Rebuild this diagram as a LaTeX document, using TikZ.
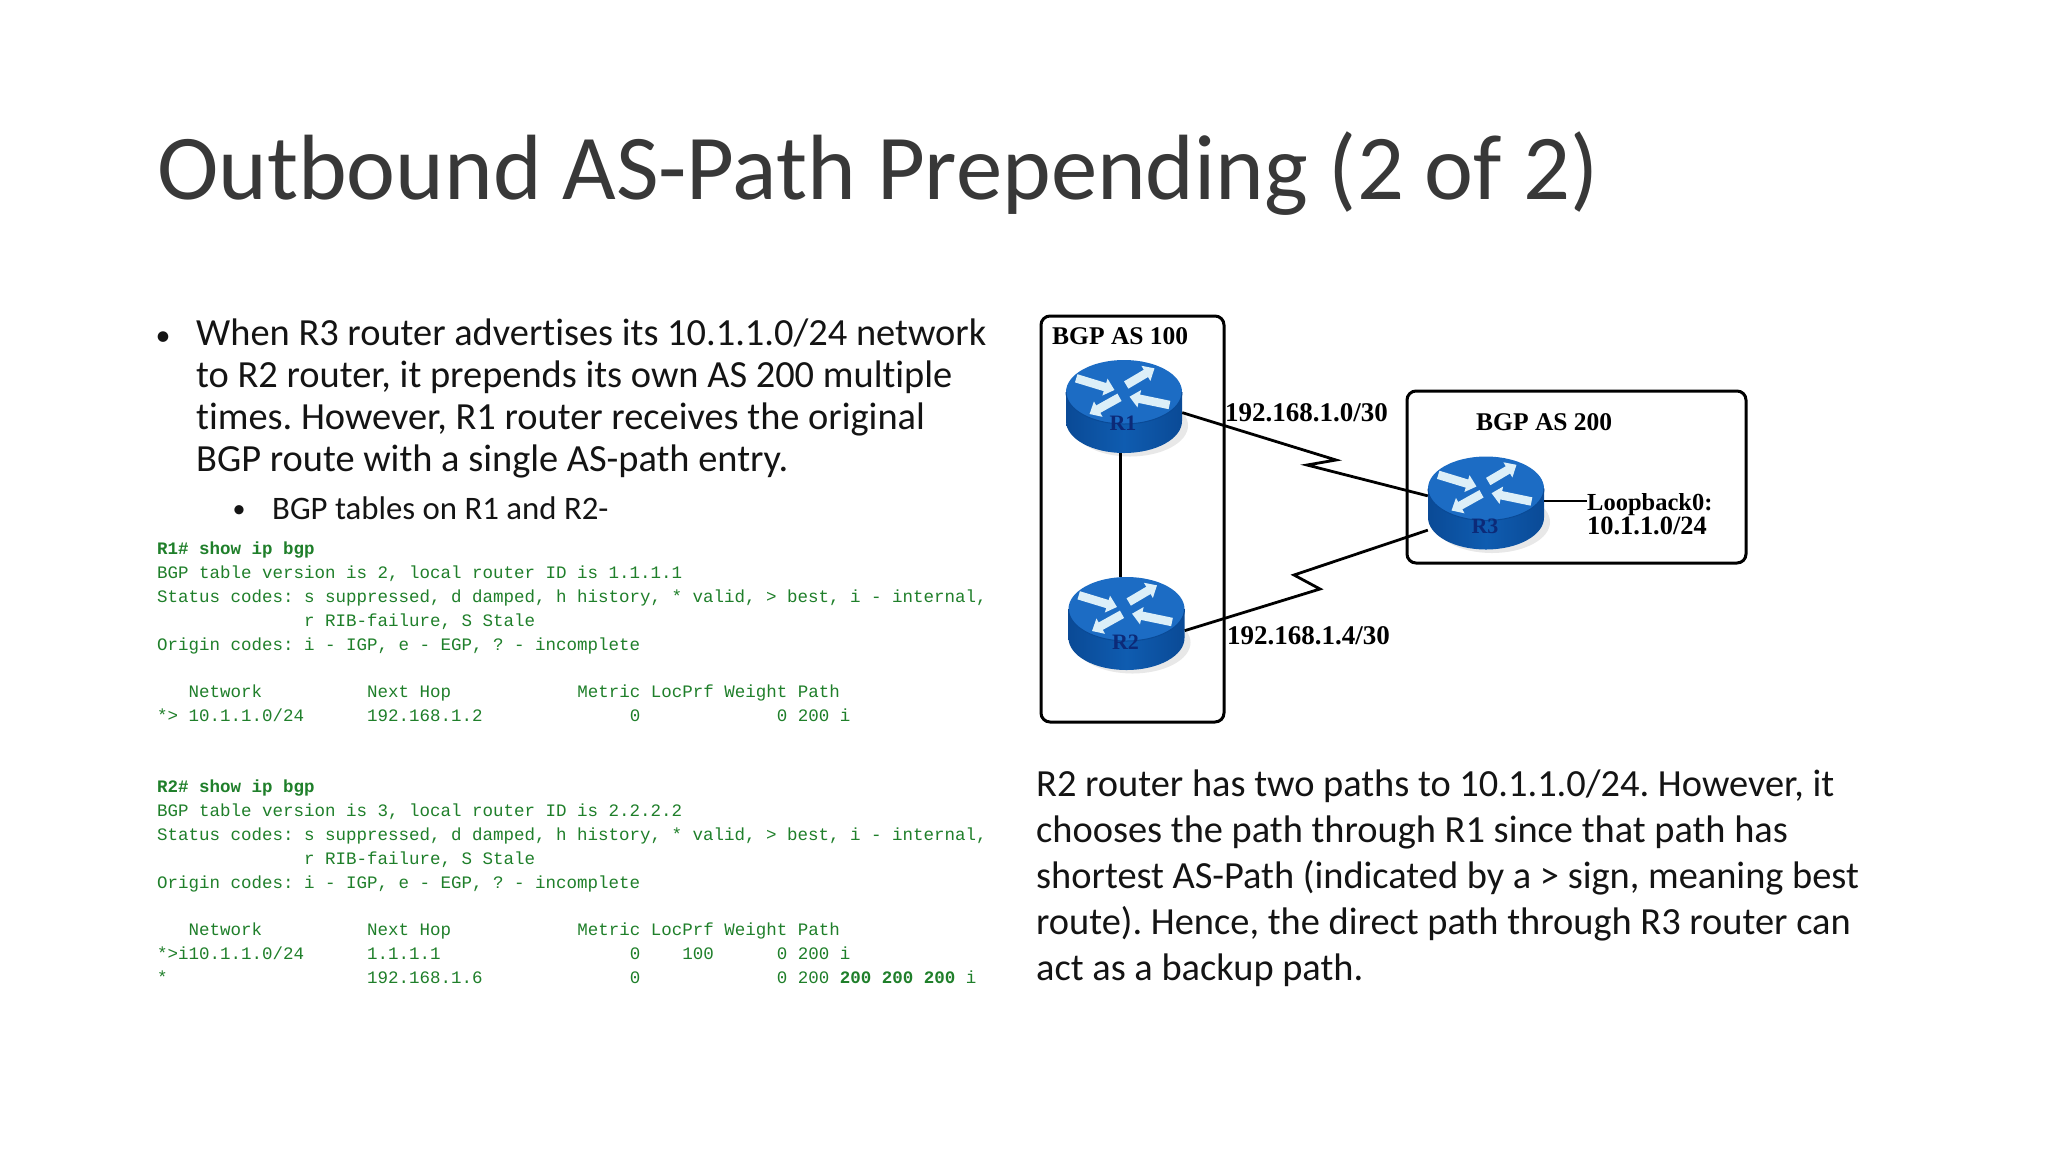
\documentclass[tikz,border=0pt]{standalone}
\usepackage{fontspec}
\setmainfont{Carlito}[Ligatures=NoCommon]
\newfontfamily\codefont{Liberation Mono}
\newfontfamily\labfont{Liberation Serif}
\usetikzlibrary{arrows.meta}
\definecolor{codegreen}{HTML}{1F7F2A}
\definecolor{routertop}{HTML}{1C6CC4}
\definecolor{routerside}{HTML}{0F5CB0}
\definecolor{routerdark}{HTML}{0A4A96}
\definecolor{routerarrow}{HTML}{DCEFF8}
\definecolor{routertext}{HTML}{0C2A78}
\tikzset{
  x=1pt,y=-1pt,
  titletext/.style={anchor=base west,inner sep=0,text=black!78,font=\fontsize{92.7}{94}\selectfont},
  bodytext/.style={anchor=base west,inner sep=0,align=left,text=black!92,font=\frenchspacing\fontsize{38.4}{41.8}\selectfont},
  bullettext/.style={anchor=base,inner sep=0,text=black!92,font=\fontsize{#1}{30}\selectfont},
  subtext/.style={anchor=base west,inner sep=0,text=black!92,font=\fontsize{32.8}{36}\selectfont},
  righttext/.style={anchor=base west,inner sep=0,align=left,text=black!92,font=\frenchspacing\fontsize{38.4}{46.1}\selectfont},
  codeline/.style={anchor=base west,inner sep=0,text=codegreen,font=\frenchspacing\codefont\fontsize{17.5}{20}\selectfont},
  aslabel/.style={anchor=base west,inner sep=0,text=black,font=\labfont\bfseries\fontsize{#1}{28}\selectfont},
  aslabel/.default=25.5,
  asbox/.style={draw=black,line width=3,rounded corners=9,fill=none},
  link/.style={draw=black,line width=2.8},
  routerbox/.style={rectangle,draw=none,minimum width=116,minimum height=93,inner sep=0},
  routerlabel/.style={inner sep=0,text=routertext,font=\labfont\bfseries\fontsize{22}{22}\selectfont},
  routerarr/.style={draw=routerarrow,line width=8.5,-{Triangle[width=17,length=10]}},
  pics/routerpic/.style={code={
    \fill[black!9] (6,19) ellipse[x radius=58,y radius=31];
    \path[left color=routerdark,right color=routerdark,middle color=routerside]
      (-58,-14.5) -- (-58,14.5) arc[start angle=180,end angle=0,x radius=58,y radius=32] -- (58,-14.5) -- cycle;
    \fill[routertop] (0,-14.5) ellipse[x radius=58,y radius=32];
    \draw[routerdark,line width=1] (-58,-14.5) arc[start angle=180,end angle=0,x radius=58,y radius=32];
    \draw[routerarr] (-47.8,-28.2) -- (-9.5,-16.5);
    \draw[routerarr] (-4.5,-9.2) -- (-34.5,7.5);
    \draw[routerarr] (45.5,-1.5) -- (5.5,-9.8);
    \draw[routerarr] (2.2,-21.5) -- (30.5,-38.2);
  }},
}
\newcommand{\routernode}[5]{%
  \node[routerbox] (#1) at (#2,#3) {};
  \pic at (#1) {routerpic};
  \node[routerlabel] (#1t) at (#2-1,#3+#5) {#4};
}
\begin{document}
\begin{tikzpicture}
\useasboundingbox (0,0) rectangle (2048,1152);
\fill[white] (0,0) rectangle (2048,1152);

% title
\node[titletext] (title) at (157,199) {Outbound AS-Path Prepending (2 of 2)};

% left bullets
\node[bullettext=30] (bul1) at (163,345) {•};
\node[bodytext] (para1) at (196,471) {When R3 router advertises its 10.1.1.0/24 network\\to R2 router, it prepends its own AS 200 multiple\\times. However, R1 router receives the original\\BGP route with a single AS-path entry.};
\node[bullettext=26] (bul2) at (239,517) {•};
\node[subtext] (sub1) at (272,519) {BGP tables on R1 and R2-};

% R1 table
\node[codeline] (a1) at (157,554) {\bfseries R1\# show ip bgp};
\node[codeline] (a2) at (157,578) {BGP table version is 2, local router ID is 1.1.1.1};
\node[codeline] (a3) at (157,602) {Status codes: s suppressed, d damped, h history, * valid, > best, i - internal,};
\node[codeline] (a4) at (157,626) {~~~~~~~~~~~~~~r RIB-failure, S Stale};
\node[codeline] (a5) at (157,650) {Origin codes: i - IGP, e - EGP, ? - incomplete};
\node[codeline] (a6) at (157,697) {~~~Network~~~~~~~~~~Next Hop~~~~~~~~~~~~Metric LocPrf Weight Path};
\node[codeline] (a7) at (157,721) {*> 10.1.1.0/24~~~~~~192.168.1.2~~~~~~~~~~~~~~0~~~~~~~~~~~~~0 200 i};

% R2 table
\node[codeline] (b1) at (157,792) {\bfseries R2\# show ip bgp};
\node[codeline] (b2) at (157,816) {BGP table version is 3, local router ID is 2.2.2.2};
\node[codeline] (b3) at (157,840) {Status codes: s suppressed, d damped, h history, * valid, > best, i - internal,};
\node[codeline] (b4) at (157,864) {~~~~~~~~~~~~~~r RIB-failure, S Stale};
\node[codeline] (b5) at (157,888) {Origin codes: i - IGP, e - EGP, ? - incomplete};
\node[codeline] (b6) at (157,935) {~~~Network~~~~~~~~~~Next Hop~~~~~~~~~~~~Metric LocPrf Weight Path};
\node[codeline] (b7) at (157,959) {*>i10.1.1.0/24~~~~~~1.1.1.1~~~~~~~~~~~~~~~~~~0~~~~100~~~~~~0 200 i};
\node[codeline] (b8) at (157,983) {*~~~~~~~~~~~~~~~~~~~192.168.1.6~~~~~~~~~~~~~~0~~~~~~~~~~~~~0 200 {\bfseries 200 200 200} i};

% AS boxes
\draw[asbox] (1041,316) rectangle (1224,722);
\draw[asbox] (1407,391) rectangle (1746,563);

% routers
\routernode{R1}{1124}{406.5}{R1}{17}
\routernode{R2}{1126.5}{623.5}{R2}{19}
\routernode{R3}{1486}{503}{R3}{23}

% named bends
\coordinate (z1a) at (1336,460);
\coordinate (z1b) at (1307,465);
\coordinate (z2a) at (1320,589);
\coordinate (z2b) at (1294,575);
\coordinate (loop) at (1587,501);

% connectors
\draw[link] ([xshift=-3.5]R1.south) -- ([xshift=-6]R2.north);
\draw[link] (R1.-6) -- (z1a) -- (z1b) -- (R3.173);
\draw[link] (R2.-7) -- (z2a) -- (z2b) -- (R3.205);
\draw[link] (R3.east |- loop) -- (loop);

% labels
\node[aslabel] (as100) at (1052,344) {BGP AS 100};
\node[aslabel] (as200) at (1476,430) {BGP AS 200};
\node[aslabel=27] (net1) at (1225,421) {192.168.1.0/30};
\node[aslabel=27] (net2) at (1227,644) {192.168.1.4/30};
\node[aslabel=24.5] (lb1) at (1587,510) {Loopback0:};
\node[aslabel=26.4] (lb2) at (1587,534) {10.1.1.0/24};

% right paragraph
\node[righttext] (para2) at (1036,980.5) {R2 router has two paths to 10.1.1.0/24. However, it\\chooses the path through R1 since that path has\\shortest AS-Path (indicated by a > sign, meaning best\\route). Hence, the direct path through R3 router can\\act as a backup path.};
\end{tikzpicture}
\end{document}
